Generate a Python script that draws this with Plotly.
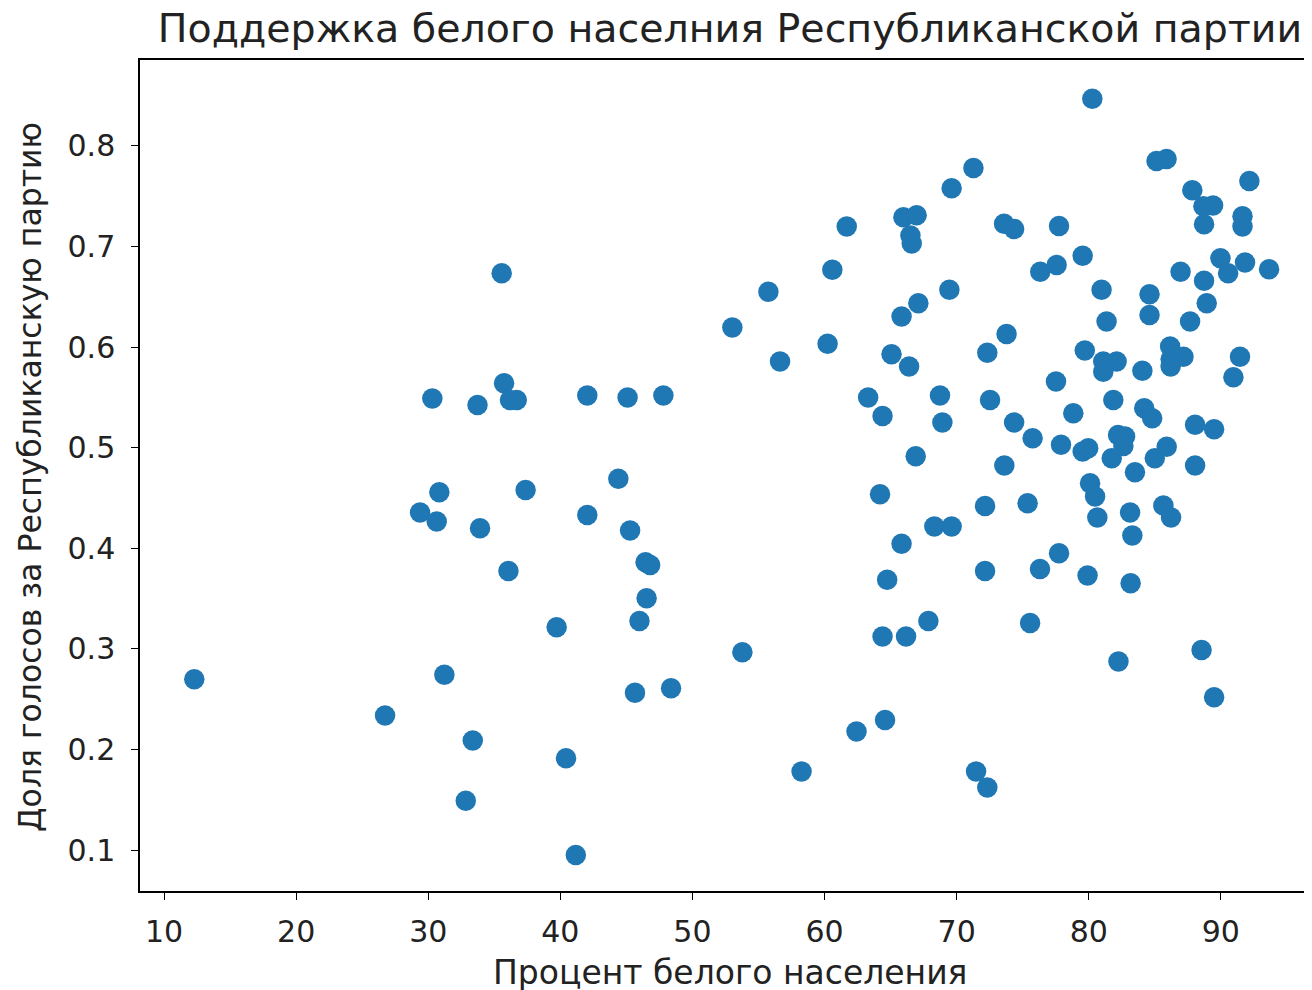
import plotly.graph_objects as go

white_pct = [
    35.56, 61.68, 65.97, 66.97, 66.5, 66.6, 60.59, 55.75, 53.02, 65.83,
    67.1, 80.27, 71.27, 69.62, 85.13, 85.89, 87.84, 92.16, 88.68, 89.41,
    88.73, 91.64, 91.64, 73.59, 74.35, 77.75, 79.54, 76.33, 77.57, 80.97,
    86.95, 89.97, 90.55, 88.73, 91.83, 93.65, 84.6, 84.6, 81.35, 87.67,
    88.93, 69.45, 73.78, 30.31, 33.73, 35.74, 36.19, 36.7, 30.84, 29.38,
    30.64, 33.92, 37.37, 36.07, 60.23, 56.63, 65.07, 66.4, 42.04, 45.09,
    47.8, 63.3, 64.39, 66.9, 44.39, 42.04, 45.28, 46.45, 46.8, 46.53,
    64.2, 65.83, 64.74, 72.32, 79.7, 81.1, 82.11, 81.1, 84.06, 86.16,
    86.2, 87.17, 86.2, 91.45, 90.95, 77.52, 81.86, 78.83, 84.2, 84.8,
    68.74, 72.53, 68.92, 74.35, 75.75, 77.9, 79.54, 79.96, 82.22, 82.75,
    82.62, 81.74, 85.9, 85.0, 83.5, 88.05, 89.49, 88.05, 73.61, 80.1,
    80.48, 80.65, 83.13, 83.3, 85.65, 86.23, 72.15, 75.37, 68.31, 69.62,
    77.75, 76.31, 72.15, 79.91, 83.17, 12.29, 26.73, 31.22, 33.37, 32.84,
    39.72, 45.99, 53.78, 45.65, 48.38, 40.43, 41.17, 58.26, 64.39, 66.17,
    62.42, 64.58, 67.86, 75.56, 82.25, 88.54, 89.49, 71.47, 72.32,
]

rep_share = [
    0.6735, 0.7198, 0.729, 0.731, 0.711, 0.703, 0.677, 0.655, 0.6194, 0.6303,
    0.6436, 0.847, 0.778, 0.758, 0.785, 0.787, 0.756, 0.765, 0.740, 0.7407,
    0.722, 0.730, 0.720, 0.7225, 0.7175, 0.7205, 0.6907, 0.675, 0.6817, 0.6569,
    0.675, 0.6884, 0.6735, 0.666, 0.684, 0.6774, 0.6526, 0.632, 0.6254, 0.6254,
    0.6436, 0.657, 0.613, 0.549, 0.5425, 0.564, 0.5475, 0.5475, 0.4558, 0.4355,
    0.4265, 0.42, 0.458, 0.3775, 0.6032, 0.5856, 0.593, 0.5806, 0.5518, 0.5498,
    0.5518, 0.5498, 0.5316, 0.4915, 0.469, 0.4332, 0.4176, 0.3862, 0.3835, 0.3504,
    0.4538, 0.4044, 0.3686, 0.5945, 0.5965, 0.5856, 0.5856, 0.5756, 0.5766, 0.6005,
    0.588, 0.5905, 0.5806, 0.5905, 0.57, 0.5657, 0.5475, 0.5343, 0.5393, 0.5293,
    0.5518, 0.5475, 0.525, 0.525, 0.5094, 0.5028, 0.4961, 0.4995, 0.5127, 0.511,
    0.5018, 0.4895, 0.501, 0.4895, 0.4756, 0.5227, 0.5184, 0.4822, 0.4822, 0.4647,
    0.4514, 0.4306, 0.4355, 0.4126, 0.4425, 0.4306, 0.4421, 0.4448, 0.4216, 0.4216,
    0.395, 0.3795, 0.3775, 0.3729, 0.3653, 0.2699, 0.2337, 0.2742, 0.2088, 0.1489,
    0.3216, 0.3278, 0.2967, 0.2565, 0.2609, 0.1913, 0.0952, 0.178, 0.3122, 0.3122,
    0.2178, 0.2294, 0.3278, 0.3256, 0.2874, 0.299, 0.252, 0.178, 0.1621,
]

x_ticks = [10, 20, 30, 40, 50, 60, 70, 80, 90]
y_ticks = [0.1, 0.2, 0.3, 0.4, 0.5, 0.6, 0.7, 0.8]

title_text = "Поддержка белого населния Республиканской партии"
x_label = "Процент белого населения"
y_label = "Доля голосов за Республиканскую партию"

FONT = "DejaVu Sans"
W, H = 1304, 982
L, T, B = 132, 52, 99

fig = go.Figure()
fig.add_trace(go.Scatter(
    x=white_pct, y=rep_share, mode="markers",
    marker=dict(color="#1f77b4", size=20.5, line=dict(width=0)),
    showlegend=False, hoverinfo="skip",
))

axis_common = dict(
    showgrid=False, zeroline=False, showline=True, linecolor="black",
    linewidth=1.5, ticks="outside", ticklen=7, tickwidth=1.3,
    tickcolor="black", tickfont=dict(family=FONT, size=30, color="#222"),
)

fig.update_xaxes(range=[8.18, 96.9], tickvals=x_ticks, mirror=True,
                 ticklabelstandoff=6, **axis_common)
fig.update_yaxes(range=[0.0593, 0.8854], tickvals=y_ticks,
                 ticktext=[f"{v:.1f}" for v in y_ticks], mirror=False,
                 ticklabelstandoff=10, **axis_common)

plot_h = H - T - B
fig.update_layout(
    width=W, height=H,
    margin=dict(l=L, r=0, t=T, b=B, pad=0),
    plot_bgcolor="white", paper_bgcolor="white",
    font=dict(family=FONT, color="#222"),
    title=dict(text=title_text, x=0.5034, xref="paper", xanchor="center",
               y=1 - 20 / H, yref="container", yanchor="middle",
               font=dict(family=FONT, size=39.5, color="#222")),
    annotations=[
        dict(text=x_label, xref="paper", yref="paper", x=0.503,
             y=-(965 - (T + plot_h)) / plot_h,
             xanchor="center", yanchor="middle", showarrow=False,
             font=dict(family=FONT, size=33, color="#222")),
        dict(text=y_label, xref="paper", yref="paper",
             x=(22 - L) / (W - L), y=(T + plot_h - 469) / plot_h,
             xanchor="center", yanchor="middle", showarrow=False, textangle=-90,
             font=dict(family=FONT, size=31.5, color="#222")),
    ],
)

fig.write_html("out.html")
